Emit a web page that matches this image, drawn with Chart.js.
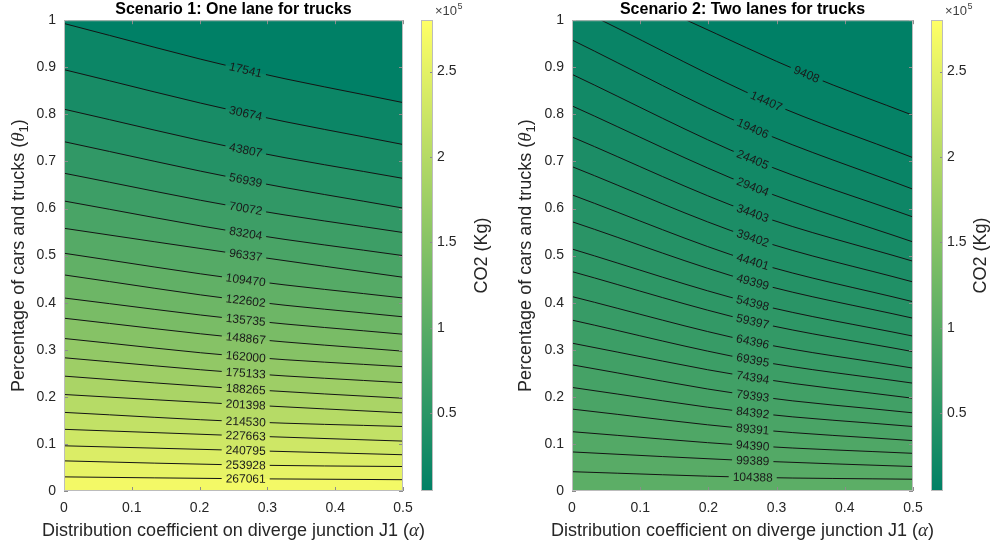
<!DOCTYPE html>
<html>
<head>
<meta charset="utf-8">
<script src="https://cdn.jsdelivr.net/npm/chart.js@4.4.1/dist/chart.umd.min.js"></script>
<style>
  body { margin: 0; background: #fff; }
  #wrap { position: relative; width: 995px; height: 547px; }
  #wrap canvas { position: absolute; top: 0; }
</style>
</head>
<body>
<div id="wrap">
  <canvas id="contour1" width="440" height="547" style="left:0"></canvas>
  <canvas id="cbar1" width="95" height="547" style="left:405px"></canvas>
  <canvas id="contour2" width="450" height="547" style="left:500px"></canvas>
  <canvas id="cbar2" width="80" height="547" style="left:915px"></canvas>
</div>
<script>
const FONT = '"Liberation Sans", Arial, Helvetica, sans-serif';
const TXT = '#262626';

// shared colour axis (kg CO2)
const cMin = 4408;
const cMax = 280194;
const cbTicks = [50000, 100000, 150000, 200000, 250000];

// Scenario 1: theta where each level crosses alpha = 0, at the label, and at alpha = 0.5
const s1Base = 4408;
const s1Levels = [17541, 30674, 43807, 56939, 70072, 83204, 96337, 109470, 122602, 135735,
  148867, 162000, 175133, 188265, 201398, 214530, 227663, 240795, 253928, 267061];
const s1LabelA = 0.268;
const s1StartT = [0.993, 0.895, 0.811, 0.742, 0.675, 0.616, 0.558, 0.505, 0.459, 0.410,
  0.367, 0.324, 0.283, 0.244, 0.205, 0.167, 0.131, 0.096, 0.064, 0.030];
const s1LabelT = [0.894, 0.802, 0.724, 0.660, 0.600, 0.547, 0.501, 0.448, 0.404, 0.363,
  0.324, 0.285, 0.250, 0.216, 0.183, 0.147, 0.117, 0.086, 0.055, 0.026];
const s1EndT = [0.825, 0.736, 0.664, 0.601, 0.549, 0.500, 0.454, 0.410, 0.370, 0.333,
  0.297, 0.264, 0.230, 0.197, 0.166, 0.137, 0.106, 0.077, 0.052, 0.024];

// Scenario 2: the first two levels enter through the top edge
const s2Base = 4409;
const s2Levels = [9408, 14407, 19406, 24405, 29404, 34403, 39402, 44401, 49399, 54398,
  59397, 64396, 69395, 74394, 79393, 84392, 89391, 94390, 99389, 104388];
const s2StartA = [0.168, 0.043, 0, 0, 0, 0, 0, 0, 0, 0, 0, 0, 0, 0, 0, 0, 0, 0, 0, 0];
const s2StartT = [1, 1, 0.958, 0.885, 0.818, 0.752, 0.689, 0.629, 0.572, 0.514,
  0.466, 0.413, 0.363, 0.314, 0.268, 0.220, 0.174, 0.126, 0.083, 0.041];
const s2LabelA = [0.344, 0.285, 0.265, 0.265, 0.265, 0.265, 0.265, 0.265, 0.265, 0.265,
  0.265, 0.265, 0.265, 0.265, 0.265, 0.265, 0.265, 0.265, 0.265, 0.265];
const s2LabelT = [0.885, 0.828, 0.770, 0.704, 0.646, 0.590, 0.537, 0.487, 0.444, 0.399,
  0.360, 0.317, 0.278, 0.241, 0.202, 0.166, 0.131, 0.096, 0.064, 0.029];
const s2EndT = [0.798, 0.708, 0.641, 0.582, 0.529, 0.488, 0.444, 0.402, 0.367, 0.329,
  0.296, 0.261, 0.229, 0.197, 0.166, 0.137, 0.107, 0.080, 0.052, 0.025];

// matlab "summer" colormap
function summer(v) {
  const t = Math.min(1, Math.max(0, (v - cMin) / (cMax - cMin)));
  return `rgb(${Math.round(255 * t)}, ${Math.round(127.5 + 127.5 * t)}, 102)`;
}

function drawRich(ctx, parts, cx, y) {
  let w = 0;
  parts.forEach(p => { ctx.font = p.font; p.w = ctx.measureText(p.text).width; w += p.w; });
  let x = cx - w / 2;
  ctx.textAlign = 'left';
  parts.forEach(p => { ctx.font = p.font; ctx.fillText(p.text, x, y + (p.dy || 0)); x += p.w; });
}

const LBL = '18px ' + FONT;
const xTitle = [
  { text: 'Distribution coefficient on diverge junction J1 (', font: LBL },
  { text: 'α', font: 'italic 19px "Liberation Serif", serif' },
  { text: ')', font: LBL }
];
const yTitle = [
  { text: 'Percentage of cars and trucks (', font: LBL },
  { text: 'θ', font: 'italic 19px "Liberation Serif", serif' },
  { text: '1', font: '13px ' + FONT, dy: 4 },
  { text: ')', font: LBL }
];

// region below the last contour
const areaFill = {
  id: 'areaFill',
  beforeDatasetsDraw(chart) {
    const { ctx, chartArea: a } = chart;
    const ds = chart.data.datasets;
    ctx.save();
    ctx.fillStyle = summer(ds[ds.length - 1].level);
    ctx.fillRect(a.left, a.top, a.width, a.height);
    ctx.restore();
  }
};

function labelGeom(chart, i) {
  const pt = chart.getDatasetMeta(i).data[1];
  const ang = Math.atan2(pt.cp2y - pt.cp1y, pt.cp2x - pt.cp1x);
  chart.ctx.font = '12px ' + FONT;
  const w = chart.ctx.measureText(String(chart.data.datasets[i].level)).width;
  return { x: pt.x, y: pt.y, ang, w };
}

// contour labels sit in a break of the line
const contourLabels = {
  id: 'contourLabels',
  beforeDatasetDraw(chart, args) {
    const { ctx } = chart;
    const g = labelGeom(chart, args.index);
    const hw = g.w / 2 + 4, hh = 6;
    const c = Math.cos(g.ang), s = Math.sin(g.ang);
    ctx.save();
    ctx.beginPath();
    ctx.rect(0, 0, chart.width, chart.height);
    [[-hw, -hh], [hw, -hh], [hw, hh], [-hw, hh]].forEach(([u, v], k) => {
      const px = g.x + u * c - v * s, py = g.y + u * s + v * c;
      if (k === 0) ctx.moveTo(px, py); else ctx.lineTo(px, py);
    });
    ctx.closePath();
    ctx.clip('evenodd');
  },
  afterDatasetDraw(chart) {
    chart.ctx.restore();
  },
  afterDatasetsDraw(chart) {
    const { ctx } = chart;
    chart.data.datasets.forEach((ds, i) => {
      const g = labelGeom(chart, i);
      ctx.save();
      ctx.translate(g.x, g.y);
      ctx.rotate(g.ang);
      ctx.fillStyle = '#1a1a1a';
      ctx.textAlign = 'center';
      ctx.textBaseline = 'middle';
      ctx.fillText(String(ds.level), 0, 0.5);
      ctx.restore();
    });
  }
};

// box and inward ticks like matlab axes
const axesFrame = {
  id: 'axesFrame',
  afterDraw(chart, args, opts) {
    const { ctx, chartArea: a, scales: { x, y } } = chart;
    ctx.save();
    ctx.lineWidth = 1;
    ctx.strokeStyle = '#8c8c8c';
    ctx.beginPath();
    x.ticks.forEach(t => {
      const px = Math.round(x.getPixelForValue(t.value)) + 0.5;
      ctx.moveTo(px, a.bottom); ctx.lineTo(px, a.bottom - 4);
      ctx.moveTo(px, a.top); ctx.lineTo(px, a.top + 4);
    });
    y.ticks.forEach(t => {
      const py = Math.round(y.getPixelForValue(t.value)) + 0.5;
      ctx.moveTo(a.left, py); ctx.lineTo(a.left + 4, py);
      ctx.moveTo(a.right, py); ctx.lineTo(a.right - 4, py);
    });
    ctx.stroke();
    ctx.strokeStyle = '#bcbcbc';
    ctx.strokeRect(a.left + 0.5, a.top + 0.5, a.width - 1, a.height - 1);

    ctx.fillStyle = TXT;
    ctx.textBaseline = 'alphabetic';
    drawRich(ctx, xTitle, (a.left + a.right) / 2, opts.xBase);
    ctx.translate(opts.yAt, (a.top + a.bottom) / 2);
    ctx.rotate(-Math.PI / 2);
    drawRich(ctx, yTitle, 0, 6);
    ctx.restore();
  }
};

const tickFmt = v => String(Math.round(v * 10) / 10);

function contourChart(id, title, levels, base, lines, yWidth, yAt, padRight) {
  const datasets = levels.map((lv, i) => ({
    data: lines[i],
    level: lv,
    borderColor: '#141414',
    borderWidth: 1,
    pointRadius: 0,
    cubicInterpolationMode: 'monotone',
    fill: 'end',
    backgroundColor: summer(i === 0 ? base : levels[i - 1])
  }));
  return new Chart(document.getElementById(id), {
    type: 'line',
    data: { datasets },
    options: {
      responsive: false,
      animation: false,
      events: [],
      layout: { padding: { left: 0, right: padRight, top: 0, bottom: 0 } },
      plugins: {
        legend: { display: false },
        tooltip: { enabled: false },
        title: {
          display: true,
          text: title,
          fullSize: false,
          color: '#000',
          font: { family: FONT, size: 16, weight: 'bold', lineHeight: 1.2 },
          padding: { top: 0, bottom: 1 }
        },
        axesFrame: { xBase: 536, yAt: yAt }
      },
      scales: {
        x: {
          type: 'linear', min: 0, max: 0.5,
          grid: { display: false, drawTicks: false },
          border: { display: false },
          ticks: { stepSize: 0.1, padding: 9, color: TXT, font: { family: FONT, size: 14 }, callback: tickFmt },
          afterFit: s => { s.height = 56; }
        },
        y: {
          type: 'linear', min: 0, max: 1,
          grid: { display: false, drawTicks: false },
          border: { display: false },
          ticks: { stepSize: 0.1, padding: 8, color: TXT, font: { family: FONT, size: 14 }, callback: tickFmt },
          afterFit: s => { s.width = yWidth; }
        }
      }
    },
    plugins: [areaFill, contourLabels, axesFrame]
  });
}

const colorbarFrame = {
  id: 'colorbarFrame',
  afterDraw(chart, args, opts) {
    const { ctx, chartArea: a } = chart;
    const y = chart.scales.y;
    ctx.save();
    ctx.lineWidth = 1;
    ctx.strokeStyle = '#8c8c8c';
    ctx.beginPath();
    y.ticks.forEach(t => {
      const py = Math.round(y.getPixelForValue(t.value)) + 0.5;
      ctx.moveTo(a.right - 3, py); ctx.lineTo(a.right, py);
    });
    ctx.stroke();
    ctx.strokeStyle = '#bcbcbc';
    ctx.strokeRect(a.left + 0.5, a.top + 0.5, a.width - 1, a.height - 1);

    ctx.fillStyle = '#404040';
    ctx.textAlign = 'left';
    ctx.textBaseline = 'alphabetic';
    ctx.font = '13px ' + FONT;
    ctx.fillText('×10', a.right + 2, 15);
    const w = ctx.measureText('×10').width;
    ctx.font = '9px ' + FONT;
    ctx.fillText('5', a.right + 2.5 + w, 9);

    ctx.translate(opts.labelX, (a.top + a.bottom) / 2);
    ctx.rotate(-Math.PI / 2);
    ctx.fillStyle = TXT;
    ctx.font = LBL;
    ctx.textAlign = 'center';
    ctx.textBaseline = 'middle';
    ctx.fillText('CO2 (Kg)', 0, 0);
    ctx.restore();
  }
};

function colorbar(id, yWidth, labelX) {
  return new Chart(document.getElementById(id), {
    type: 'bar',
    data: {
      labels: [''],
      datasets: [{
        data: [[cMin, cMax]],
        borderWidth: 0,
        barPercentage: 1,
        categoryPercentage: 1,
        backgroundColor: c => {
          const a = c.chart.chartArea;
          if (!a) return summer(cMin);
          const g = c.chart.ctx.createLinearGradient(0, a.bottom, 0, a.top);
          g.addColorStop(0, summer(cMin));
          g.addColorStop(1, summer(cMax));
          return g;
        }
      }]
    },
    options: {
      responsive: false,
      animation: false,
      events: [],
      layout: { padding: { left: 16, right: 0, top: 20, bottom: 56 } },
      plugins: {
        legend: { display: false },
        tooltip: { enabled: false },
        colorbarFrame: { labelX: labelX }
      },
      scales: {
        x: { display: false },
        y: {
          position: 'right', min: cMin, max: cMax,
          grid: { display: false, drawTicks: false },
          border: { display: false },
          afterBuildTicks: s => { s.ticks = cbTicks.map(v => ({ value: v })); },
          afterFit: s => { s.width = yWidth; },
          ticks: { padding: 4, color: TXT, font: { family: FONT, size: 14 }, callback: v => String(v / 1e5) }
        }
      }
    },
    plugins: [colorbarFrame]
  });
}

const s1Lines = s1Levels.map((_, i) => [
  { x: 0, y: s1StartT[i] }, { x: s1LabelA, y: s1LabelT[i] }, { x: 0.5, y: s1EndT[i] }
]);
const s2Lines = s2Levels.map((_, i) => [
  { x: s2StartA[i], y: s2StartT[i] }, { x: s2LabelA[i], y: s2LabelT[i] }, { x: 0.5, y: s2EndT[i] }
]);

contourChart('contour1', 'Scenario 1: One lane for trucks', s1Levels, s1Base, s1Lines, 64, 18, 37);
colorbar('cbar1', 67, 77);
contourChart('contour2', 'Scenario 2: Two lanes for trucks', s2Levels, s2Base, s2Lines, 72, 25, 37);
colorbar('cbar2', 52, 66);
</script>
</body>
</html>
